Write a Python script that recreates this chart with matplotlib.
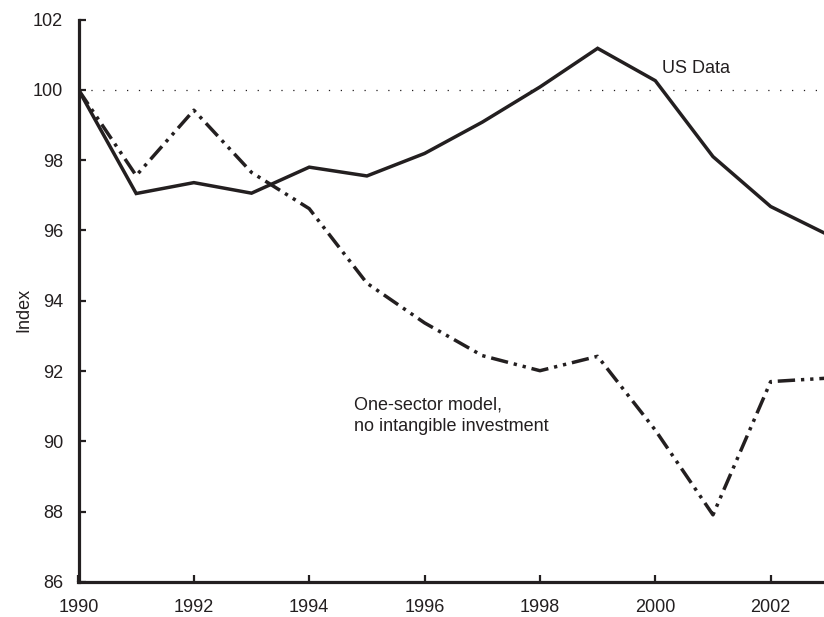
import numpy as np
import matplotlib
matplotlib.use("Agg")
import matplotlib.pyplot as plt

# Data
years = [1990, 1991, 1992, 1993, 1994, 1995, 1996, 1997, 1998, 1999, 2000, 2001, 2002, 2003]
us_data = [100.0, 97.05, 97.36, 97.06, 97.80, 97.55, 98.19, 99.08, 100.08, 101.18, 100.26, 98.10, 96.68, 95.87]
one_sector = [100.0, 97.56, 99.42, 97.65, 96.62, 94.50, 93.37, 92.44, 92.01, 92.42, 90.32, 87.91, 91.70, 91.80]

x_ticks = [1990, 1992, 1994, 1996, 1998, 2000, 2002]
y_ticks = [86, 88, 90, 92, 94, 96, 98, 100, 102]
baseline = 100

ink = "#231f20"
plt.rcParams["font.family"] = ["Liberation Sans", "DejaVu Sans"]

fig = plt.figure(figsize=(8.24, 6.17), dpi=100)
ax = fig.add_axes([78.5 / 824, 1 - 582 / 617, 1 - 78.5 / 824, (582 - 19.5) / 617])

# Reference level
ax.axhline(baseline, color=ink, lw=0.9, linestyle=(0, (1, 8.5)), zorder=1)

# Series
ax.plot(years, us_data, color=ink, lw=2.5, solid_joinstyle="miter", zorder=3)
ax.plot(years, one_sector, color=ink, lw=2.5, dash_capstyle="butt",
        linestyle=(0, (5.0, 1.7, 0.95, 1.7, 0.95, 1.7)), zorder=3)

# Annotations
ax.text(2000.12, 100.49, "US Data", fontsize=13, color=ink, va="baseline", ha="left")
ax.text(1994.78, 90.92, "One-sector model,", fontsize=13, color=ink, va="baseline", ha="left")
ax.text(1994.78, 90.30, "no intangible investment", fontsize=13, color=ink, va="baseline", ha="left")

ax.set_xlim(1990, 1990 + (824 - 78.5) / 57.68)
ax.set_ylim(86, 102)
ax.set_xticks(x_ticks)
ax.set_yticks(y_ticks)

for side in ["top", "right"]:
    ax.spines[side].set_visible(False)
for side in ["left", "bottom"]:
    ax.spines[side].set_linewidth(2.3)
    ax.spines[side].set_color(ink)
    ax.spines[side].set_capstyle("projecting")

ax.tick_params(axis="both", direction="in", length=5, width=1.6, color=ink,
               labelsize=13, labelcolor=ink)
ax.tick_params(axis="y", pad=11)
ax.tick_params(axis="x", pad=12.5)

fig.text(24 / 824, 1 - 310 / 617, "Index", rotation=90, fontsize=13, color=ink,
         ha="center", va="center")

fig.savefig("out.png", dpi=100)
